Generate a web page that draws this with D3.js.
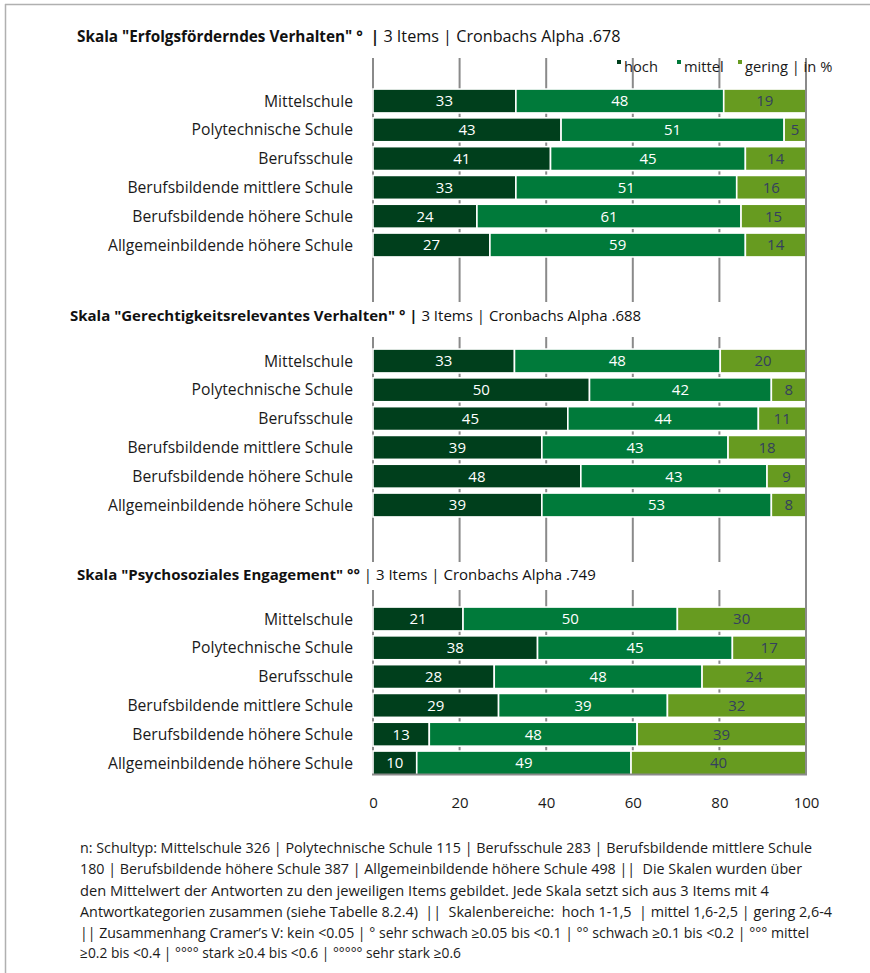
<!DOCTYPE html>
<html><head><meta charset="utf-8">
<script src="https://cdn.jsdelivr.net/npm/d3@7"></script>
<style>
html,body{margin:0;padding:0;background:#fff;}
svg{display:block;font-family:"Open Sans",sans-serif;}
text{white-space:pre;}
</style></head>
<body>
<svg id="c" width="870" height="973"></svg>
<script>
const categories = ["Mittelschule","Polytechnische Schule","Berufsschule","Berufsbildende mittlere Schule","Berufsbildende höhere Schule","Allgemeinbildende höhere Schule"];
const seriesNames = ["hoch","mittel","gering"];
const hoch1 = [33,43,41,33,24,27], mittel1 = [48,51,45,51,61,59], gering1 = [19,5,14,16,15,14];
const hoch2 = [33,50,45,39,48,39], mittel2 = [48,42,44,43,43,53], gering2 = [20,8,11,18,9,8];
const hoch3 = [21,38,28,29,13,10], mittel3 = [50,45,48,39,48,49], gering3 = [30,17,24,32,39,40];
const titlesBold = ['Skala "Erfolgsförderndes Verhalten" °  |', 'Skala "Gerechtigkeitsrelevantes Verhalten" ° |', 'Skala "Psychosoziales Engagement" °°'];
const titlesRest = [' 3 Items | Cronbachs Alpha .678', ' 3 Items | Cronbachs Alpha .688', ' | 3 Items | Cronbachs Alpha .749'];
const tickValues = [0,20,40,60,80,100];
const footnote = [
 "n: Schultyp: Mittelschule 326 | Polytechnische Schule 115 | Berufsschule 283 | Berufsbildende mittlere Schule",
 "180 | Berufsbildende höhere Schule 387 | Allgemeinbildende höhere Schule 498 ||  Die Skalen wurden über",
 "den Mittelwert der Antworten zu den jeweiligen Items gebildet. Jede Skala setzt sich aus 3 Items mit 4",
 "Antwortkategorien zusammen (siehe Tabelle 8.2.4)  ||  Skalenbereiche:  hoch 1-1,5  | mittel 1,6-2,5 | gering 2,6-4",
 "|| Zusammenhang Cramer’s V: kein <0.05 | ° sehr schwach ≥0.05 bis <0.1 | °° schwach ≥0.1 bis <0.2 | °°° mittel",
 "≥0.2 bis <0.4 | °°°° stark ≥0.4 bis <0.6 | °°°°° sehr stark ≥0.6"
];

const panels = [[hoch1,mittel1,gering1],[hoch2,mittel2,gering2],[hoch3,mittel3,gering3]];
const colors = ["#003f1c","#007a3a","#679b20"];
const labelColors = ["#ffffff","#ffffff","#34405e"];

const svg = d3.select("#c");
// frame
svg.append("line").attr("x1",5).attr("x2",870).attr("y1",4.5).attr("y2",4.5).attr("stroke","#b0b0b0").attr("stroke-width",1.5);
svg.append("line").attr("x1",5.5).attr("x2",5.5).attr("y1",4).attr("y2",973).attr("stroke","#b0b0b0").attr("stroke-width",1.5);

const x = d3.scaleLinear().domain([0,100]).range([373,806]);
const panelTop = [84.15, 344.15, 602.15];
const gridSeg = [[58,302],[337,562],[590,774]];
const titleY = [42, 321, 580];
const titleX = [77, 70, 77];
const titleSizes = [[15.3,16.2],[15,15],[15,15]];

panels.forEach((ser, p) => {
  const y = d3.scaleBand().domain(categories).range([panelTop[p], panelTop[p] + 28.8*6.17]).padding(0.17);
  const g = svg.append("g");
  g.selectAll("line.grid").data(tickValues.slice(0,5)).join("line")
    .attr("x1",d=>x(d)).attr("x2",d=>x(d)).attr("y1",gridSeg[p][0]).attr("y2",gridSeg[p][1])
    .attr("stroke","#8a8a8a").attr("stroke-width",2);
  const t = svg.append("text").attr("x",titleX[p]).attr("y",titleY[p]).attr("fill","#111");
  t.append("tspan").attr("font-weight","bold").attr("font-size",titleSizes[p][0]).text(titlesBold[p]);
  t.append("tspan").attr("font-size",titleSizes[p][1]).text(titlesRest[p]);
  const rows = categories.map((c,i) => {
    const vals = ser.map(s => s[i]);
    const sum = d3.sum(vals);
    let acc = 0;
    return vals.map((v,k) => { const seg = {cat:c, k, v, x0: acc/sum*100, x1: (acc+v)/sum*100}; acc += v; return seg; });
  }).flat();
  g.selectAll("rect.bar").data(rows).join("rect")
    .attr("x",d=>x(d.x0)).attr("width",d=>x(d.x1)-x(d.x0))
    .attr("y",d=>y(d.cat)).attr("height",y.bandwidth())
    .attr("fill",d=>colors[d.k]).attr("stroke","#fff").attr("stroke-width",1.6);
  g.selectAll("text.val").data(rows).join("text")
    .attr("x",d=>(x(d.x0)+x(d.x1))/2).attr("y",d=>y(d.cat)+y.bandwidth()/2)
    .attr("dy","0.36em").attr("text-anchor","middle").attr("font-size",15)
    .attr("fill",d=>labelColors[d.k]).text(d=>d.v);
  g.selectAll("text.cat").data(categories).join("text")
    .attr("x",353).attr("y",d=>y(d)+y.bandwidth()/2).attr("dy","0.36em")
    .attr("text-anchor","end").attr("font-size",15.7).attr("fill","#1a1a1a").text(d=>d);
});

svg.append("line").attr("x1",x(100)).attr("x2",x(100)).attr("y1",58).attr("y2",775).attr("stroke","#8a8a8a").attr("stroke-width",2);
svg.append("line").attr("x1",x(0)-1).attr("x2",x(100)+1).attr("y1",774.5).attr("y2",774.5).attr("stroke","#8a8a8a").attr("stroke-width",2);

const axis = d3.axisBottom(x).tickValues(tickValues).tickSize(0).tickPadding(0);
const ag = svg.append("g").attr("transform","translate(0,797)").call(axis);
ag.select(".domain").remove();
ag.selectAll("text").attr("font-size",15).attr("fill","#1a1a1a").attr("font-family","Open Sans, sans-serif");

const legX = [617, 677, 738];
const legLabels = ["hoch","mittel","gering | in %"];
const lg = svg.append("g");
lg.selectAll("rect").data(seriesNames).join("rect")
  .attr("x",(d,i)=>legX[i]).attr("y",60).attr("width",4).attr("height",4).attr("fill",(d,i)=>colors[i]);
lg.selectAll("text").data(legLabels).join("text")
  .attr("x",(d,i)=>legX[i]+7).attr("y",67).attr("dy","0.36em").attr("font-size",14.7).attr("fill","#1a1a1a").text(d=>d);

const fnY = [848, 869, 891, 912, 933, 953];
const fnW = [732, 722, 689, 752, 729, 381];
svg.append("g").selectAll("text").data(footnote).join("text")
  .attr("x",80).attr("y",(d,i)=>fnY[i]).attr("dy","0.36em").attr("font-size",14).attr("fill","#1a1a1a")
  .attr("textLength",(d,i)=>fnW[i]).attr("lengthAdjust","spacingAndGlyphs").text(d=>d);
</script>
</body></html>
